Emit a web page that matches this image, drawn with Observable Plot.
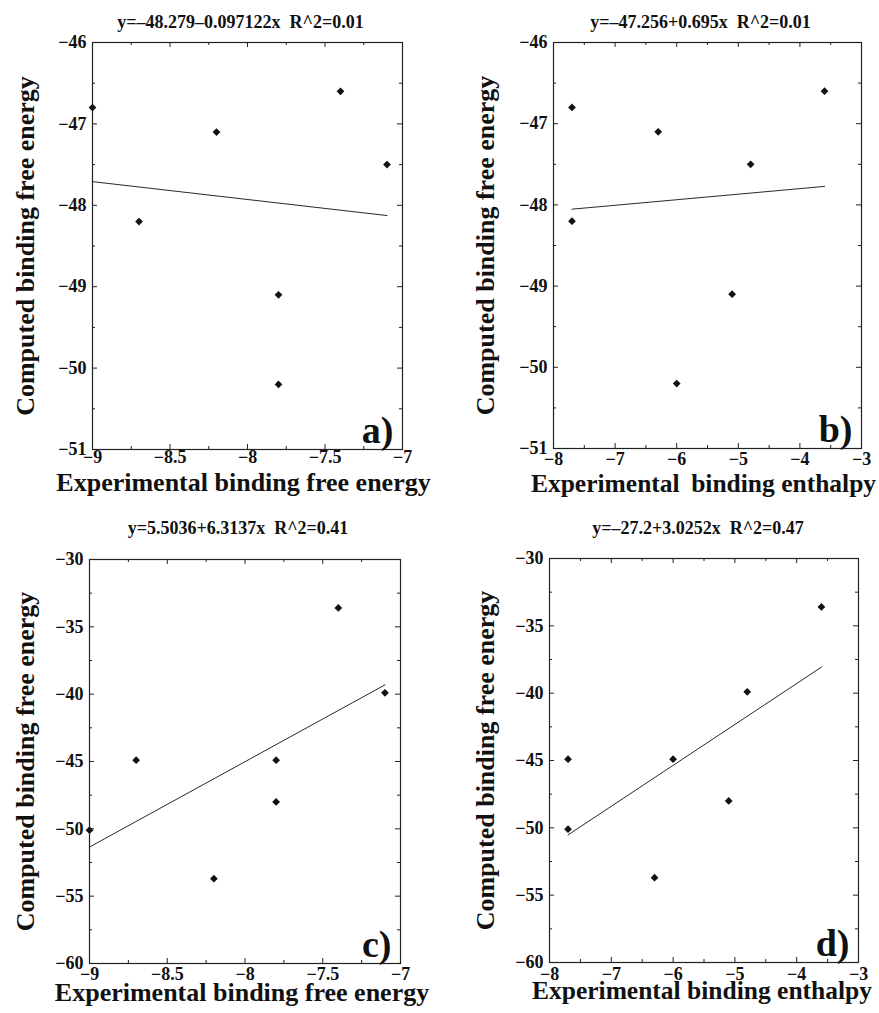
<!DOCTYPE html>
<html>
<head>
<meta charset="utf-8">
<script src="https://cdn.jsdelivr.net/npm/d3@7"></script>
<script src="https://cdn.jsdelivr.net/npm/@observablehq/plot@0.6"></script>
<style>
  html, body { margin: 0; padding: 0; background: #fff; }
  #wrap { position: relative; width: 879px; height: 1013px; background: #fff; overflow: hidden; }
  .panel { position: absolute; }
  #wrap svg text { font-weight: 700 !important; }
</style>
</head>
<body>
<div id="wrap"></div>
<script>
// ---- Data ----
const expFreeEnergy = [-9.0, -8.7, -8.2, -7.8, -7.8, -7.4, -7.1];
const expEnthalpy   = [-7.7, -7.7, -6.3, -6.0, -5.1, -3.6, -4.8];
const computedTop    = [-46.8, -48.2, -47.1, -50.2, -49.1, -46.6, -47.5];
const computedBottom = [-50.1, -44.9, -53.7, -44.9, -48.0, -33.6, -39.9];

const titles = [
  "y=\u201348.279\u20130.097122x\u00a0 R^2=0.01",
  "y=\u201347.256+0.695x\u00a0 R^2=0.01",
  "y=5.5036+6.3137x\u00a0 R^2=0.41",
  "y=\u201327.2+3.0252x\u00a0 R^2=0.47"
];
const panelTags = ["a)", "b)", "c)", "d)"];
const xLabels = [
  "Experimental binding free energy",
  "Experimental\u2009 binding enthalpy",
  "Experimental binding free energy",
  "Experimental binding enthalpy"
];
const yLabel = "Computed binding free energy";

const xTickLabelsFree = [-9, -8.5, -8, -7.5, -7];
const xTickLabelsEnth = [-8, -7, -6, -5, -4, -3];
const yTickLabelsTop = [-51, -50, -49, -48, -47, -46];
const yTickLabelsBottom = [-60, -55, -50, -45, -40, -35, -30];

// ---- Build tables ----
const rows = (xs, ys) => xs.map((x, i) => ({x, y: ys[i]}));

const panels = [
  {data: rows(expFreeEnergy, computedTop), xDomain: [-9, -7], yDomain: [-51, -46],
   xLab: xTickLabelsFree, yLab: yTickLabelsTop, xStep: 0.25, yStep: 0.5,
   pos: [0, 0, 440, 500], m: [42, 38, 51, 92], xPad: 1, titleDy: -15, titleDx: -7,
   xLabDy: 41, xLabDx: -4, xLabSize: 26, yLabD: -59},
  {data: rows(expEnthalpy, computedTop), xDomain: [-8, -3], yDomain: [-51, -46],
   xLab: xTickLabelsEnth, yLab: yTickLabelsTop, xStep: 0.5, yStep: 0.5,
   pos: [440, 0, 439, 500], m: [42, 18, 52, 113], xPad: 4, titleDy: -15, titleDx: -7,
   xLabDy: 43, xLabDx: -4, xLabSize: 25.5, yLabD: -60},
  {data: rows(expFreeEnergy, computedBottom), xDomain: [-9, -7], yDomain: [-60, -30],
   xLab: xTickLabelsFree, yLab: yTickLabelsBottom, xStep: 0.25, yStep: 2.5,
   pos: [0, 506, 440, 507], m: [53, 40, 50, 89], xPad: 4, titleDy: -26, titleDx: -7,
   xLabDy: 37, xLabDx: -3, xLabSize: 26, yLabD: -56},
  {data: rows(expEnthalpy, computedBottom), xDomain: [-8, -3], yDomain: [-60, -30],
   xLab: xTickLabelsEnth, yLab: yTickLabelsBottom, xStep: 0.5, yStep: 2.5,
   pos: [440, 506, 439, 507], m: [52, 21, 51, 109], xPad: 5, titleDy: -25, titleDx: -6,
   xLabDy: 36, xLabDx: -2, xLabSize: 25.5, yLabD: -56}
];

const FONT = "'Liberation Serif', 'Times New Roman', Times, serif";
const INK = "#111";
const fmt = d3.format("~g");
const wrap = document.getElementById("wrap");

function tickRange(domain, step) {
  const n = Math.round((domain[1] - domain[0]) / step);
  return d3.range(n + 1).map(i => +(domain[0] + i * step).toFixed(4));
}

panels.forEach((p, i) => {
  const [left, top, width, height] = p.pos;
  const [mt, mr, mb, ml] = p.m;
  const fw = width - ml - mr;
  const fh = height - mt - mb;
  const xt = tickRange(p.xDomain, p.xStep);
  const yt = tickRange(p.yDomain, p.yStep);
  const isMajorX = v => p.xLab.some(l => Math.abs(l - v) < 1e-6);
  const isMajorY = v => p.yLab.some(l => Math.abs(l - v) < 1e-6);
  const xMaj = xt.filter(isMajorX), xMin = xt.filter(v => !isMajorX(v));
  const yMaj = yt.filter(isMajorY), yMin = yt.filter(v => !isMajorY(v));
  const LMAJ = 5, LMIN = 3;

  const chart = Plot.plot({
    width, height,
    marginTop: mt, marginRight: mr, marginBottom: mb, marginLeft: ml,
    x: {domain: p.xDomain},
    y: {domain: p.yDomain},
    style: {fontFamily: FONT, fontWeight: "bold", fontSize: "18px", color: INK, background: "white", overflow: "visible"},
    marks: [
      Plot.frame({stroke: "#222", strokeWidth: 1.2}),
      // inward tick marks on all four sides
      Plot.tickX(xMaj, {x: d => d, insetTop: fh - LMAJ, stroke: "#222"}),
      Plot.tickX(xMin, {x: d => d, insetTop: fh - LMIN, stroke: "#222"}),
      Plot.tickX(xMaj, {x: d => d, insetBottom: fh - LMAJ, stroke: "#222"}),
      Plot.tickX(xMin, {x: d => d, insetBottom: fh - LMIN, stroke: "#222"}),
      Plot.tickY(yMaj, {y: d => d, insetRight: fw - LMAJ, stroke: "#222"}),
      Plot.tickY(yMin, {y: d => d, insetRight: fw - LMIN, stroke: "#222"}),
      Plot.tickY(yMaj, {y: d => d, insetLeft: fw - LMAJ, stroke: "#222"}),
      Plot.tickY(yMin, {y: d => d, insetLeft: fw - LMIN, stroke: "#222"}),
      Plot.axisX(p.xLab, {anchor: "bottom", tickSize: 0, tickPadding: p.xPad, tickFormat: fmt,
        fontSize: 18, fontWeight: "bold", fill: INK, label: null}),
      Plot.axisY(p.yLab, {anchor: "left", tickSize: 0, tickPadding: 6, tickFormat: fmt,
        fontSize: 18, fontWeight: "bold", fill: INK, label: null}),
      Plot.linearRegressionY(p.data, {x: "x", y: "y", ci: 0, stroke: INK, strokeWidth: 0.9}),
      Plot.dot(p.data, {x: "x", y: "y", symbol: "diamond2", r: 3.5, fill: INK, stroke: "none"}),
      Plot.text([titles[i]], {frameAnchor: "top", lineAnchor: "bottom", dy: p.titleDy, dx: p.titleDx,
        fontSize: 18, fontWeight: "bold", fill: INK}),
      Plot.text([xLabels[i]], {frameAnchor: "bottom", lineAnchor: "bottom", dy: p.xLabDy, dx: p.xLabDx,
        fontSize: p.xLabSize, fontWeight: "bold", fill: INK}),
      Plot.text([yLabel], {frameAnchor: "left", textAnchor: "middle", lineAnchor: "bottom", rotate: -90,
        dx: p.yLabD, fontSize: 26, fontWeight: "bold", fill: INK}),
      Plot.text([panelTags[i]], {frameAnchor: "bottom-right", textAnchor: "end", lineAnchor: "bottom",
        dx: -9, dy: -7, fontSize: 38, fontWeight: "bold", fill: INK})
    ]
  });
  const div = document.createElement("div");
  div.className = "panel";
  div.style.left = left + "px";
  div.style.top = top + "px";
  div.appendChild(chart);
  wrap.appendChild(div);
});
</script>
</body>
</html>
